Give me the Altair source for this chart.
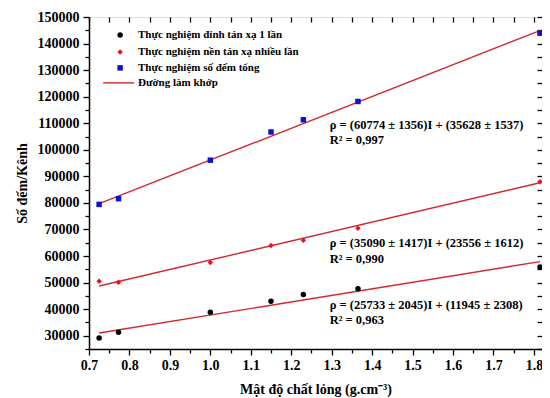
import altair as alt
import pandas as pd

# ---- data ----
density = [0.725, 0.773, 1.0, 1.15, 1.23, 1.365, 1.815]
peak_counts = [29150, 31300, 38800, 43000, 45500, 47700, 55900]
background_counts = [50500, 50100, 57600, 64000, 65900, 70500, 88000]
total_counts = [79450, 81600, 96100, 106700, 111300, 118200, 143900]

series_names = [
    "Thực nghiệm đỉnh tán xạ 1 lần",
    "Thực nghiệm nền tán xạ nhiều lần",
    "Thực nghiệm số đếm tổng",
]
fit_name = "Đường làm khớp"

fit_x = [0.725, 1.815]
fit_peak = [31000, 57900]
fit_background = [48700, 87600]
fit_total = [79700, 144900]

equations = [
    "ρ = (60774 ± 1356)I + (35628 ± 1537)",
    "R² = 0,997",
    "ρ = (35090 ± 1417)I + (23556 ± 1612)",
    "R² = 0,990",
    "ρ = (25733 ± 2045)I + (11945 ± 2308)",
    "R² = 0,963",
]

x_title = "Mật độ chất lỏng (g.cm⁻³)"
y_title = "Số đếm/Kênh"

# ---- tables ----
rows = []
for name, vals in zip(series_names, [peak_counts, background_counts, total_counts]):
    for d, v in zip(density, vals):
        rows.append({"density": d, "counts": v, "series": name})
pts = pd.DataFrame(rows)

frows = []
for name, ys in zip(series_names, [fit_peak, fit_background, fit_total]):
    for xv, yv in zip(fit_x, ys):
        frows.append({"density": xv, "counts": yv, "series": name})
fits = pd.DataFrame(frows)

eq_y = [109300, 103700, 64900, 58900, 41700, 35900]
eqs = pd.DataFrame({"density": [1.295] * 6, "counts": eq_y, "label": equations})

leg_y = [143200, 136850, 130850, 125200]
leg_sym = pd.DataFrame({"density": [0.777] * 3, "counts": leg_y[:3], "series": series_names})
leg_txt = pd.DataFrame({"density": [0.821] * 4, "counts": leg_y,
                        "label": series_names + [fit_name]})
leg_line = pd.DataFrame({"density": [0.735], "d2": [0.812], "counts": [leg_y[3]]})

FONT = "Liberation Serif"
xs = alt.Scale(domain=[0.7, 1.82], nice=False, zero=False)
ys = alt.Scale(domain=[25000, 150000], nice=False, zero=False)
colors = alt.Scale(domain=series_names, range=["#000000", "#e8141c", "#1010d0"])
shapes = alt.Scale(domain=series_names, range=["circle", "diamond", "square"])
sizes = alt.Scale(domain=series_names, range=[30, 30, 22])
LINE_RED = "#d4282e"

x_vals = [round(0.7 + 0.05 * i, 2) for i in range(23)]
y_vals = [25000 + 5000 * i for i in range(26)]
x_major = "round(datum.value*20) % 2 == 0"
y_major = "datum.value % 10000 == 0"

x_axis = alt.Axis(
    values=x_vals, title=x_title, labelExpr=f"{x_major} ? format(datum.value, '.1f') : ''",
    tickSize={"condition": {"test": x_major, "value": 6}, "value": 4},
    labelOverlap=False, labelFlush=False, grid=False, domainColor="black", domainWidth=1.5,
    tickColor="black", tickWidth=1.3, labelFont=FONT, labelFontSize=14, labelFontWeight="bold",
    labelColor="black", labelPadding=3, titleFont=FONT, titleFontSize=14, titleFontWeight="bold",
    titleColor="black", titlePadding=10,
)
y_axis = alt.Axis(
    values=y_vals, title=y_title, labelExpr=f"{y_major} ? format(datum.value, 'd') : ''",
    tickSize={"condition": {"test": y_major, "value": 6}, "value": 4},
    labelOverlap=False, labelFlush=False, grid=False, domainColor="black", domainWidth=1.5,
    tickColor="black", tickWidth=1.3, labelFont=FONT, labelFontSize=14, labelFontWeight="bold",
    labelColor="black", labelPadding=4, titleFont=FONT, titleFontSize=14, titleFontWeight="bold",
    titleColor="black", titlePadding=8,
)
x_top = alt.Axis(orient="top", values=x_vals, labels=False, title=None, domain=False, grid=False,
                 tickSize=5, offset=-5, tickColor="black", tickWidth=1.3)
y_right = alt.Axis(orient="right", values=y_vals, labels=False, title=None, domain=False, grid=False,
                   tickSize=5, offset=-5, tickColor="black", tickWidth=1.3)

lines = alt.Chart(fits).mark_line(color=LINE_RED, strokeWidth=1.4).encode(
    x=alt.X("density:Q", scale=xs, axis=None),
    y=alt.Y("counts:Q", scale=ys, axis=None),
    detail="series:N",
)

points = alt.Chart(pts).mark_point(filled=True, opacity=1).encode(
    x=alt.X("density:Q", scale=xs, axis=x_axis),
    y=alt.Y("counts:Q", scale=ys, axis=y_axis),
    color=alt.Color("series:N", scale=colors, legend=None),
    shape=alt.Shape("series:N", scale=shapes, legend=None),
    size=alt.Size("series:N", scale=sizes, legend=None),
)

eq_text = alt.Chart(eqs).mark_text(
    align="left", baseline="middle", font=FONT, fontSize=12.5, fontWeight="bold", color="black"
).encode(
    x=alt.X("density:Q", scale=xs, axis=None),
    y=alt.Y("counts:Q", scale=ys, axis=None),
    text="label:N",
)

legend_pts = alt.Chart(leg_sym).mark_point(filled=True, opacity=1).encode(
    x=alt.X("density:Q", scale=xs, axis=None),
    y=alt.Y("counts:Q", scale=ys, axis=None),
    color=alt.Color("series:N", scale=colors, legend=None),
    shape=alt.Shape("series:N", scale=shapes, legend=None),
    size=alt.Size("series:N", scale=sizes, legend=None),
)
legend_text = alt.Chart(leg_txt).mark_text(
    align="left", baseline="middle", font=FONT, fontSize=11, fontWeight="bold", color="black"
).encode(
    x=alt.X("density:Q", scale=xs, axis=None),
    y=alt.Y("counts:Q", scale=ys, axis=None),
    text="label:N",
)
legend_rule = alt.Chart(leg_line).mark_rule(color=LINE_RED, strokeWidth=1.4).encode(
    x=alt.X("density:Q", scale=xs, axis=None),
    x2="d2:Q",
    y=alt.Y("counts:Q", scale=ys, axis=None),
)

mirror = alt.Chart(pts).mark_point(opacity=0).encode(
    x=alt.X("density:Q", scale=xs, axis=x_top),
    y=alt.Y("counts:Q", scale=ys, axis=y_right),
)

chart = alt.layer(
    lines, points, eq_text, legend_pts, legend_text, legend_rule, mirror
).resolve_axis(x="independent", y="independent").properties(
    width=453, height=332,
    autosize=alt.AutoSizeParams(type="none"),
    padding={"left": 81, "top": 9, "right": 0, "bottom": 49},
).configure_view(stroke="black", strokeWidth=1.5).configure(background="white")

chart.save("out.html", embed_options={"renderer": "svg", "actions": False})
